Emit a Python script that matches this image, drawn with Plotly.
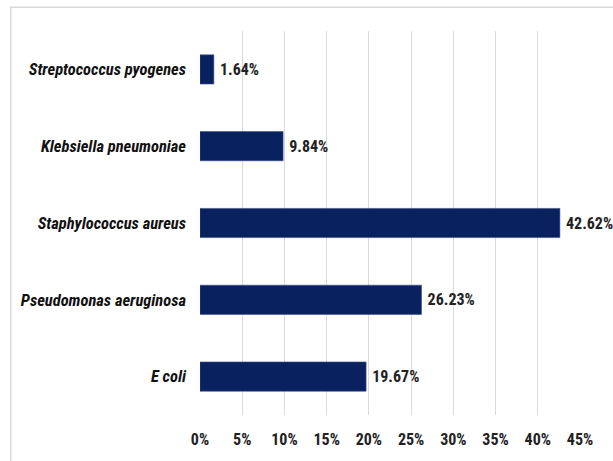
import plotly.graph_objects as go

# Bacterial isolates, share of total (%)
organisms = [
    "E coli",
    "Pseudomonas aeruginosa",
    "Staphylococcus aureus",
    "Klebsiella pneumoniae",
    "Streptococcus pyogenes",
]
shares = [19.67, 26.23, 42.62, 9.84, 1.64]
tick_values = [0, 5, 10, 15, 20, 25, 30, 35, 40, 45]
tick_labels = ["0%", "5%", "10%", "15%", "20%", "25%", "30%", "35%", "40%", "45%"]

W, H = 613, 461
ML, MR, MT, MB = 199.5, 33, 31, 42
pw, ph = W - ML - MR, H - MT - MB

font_family = "Liberation Sans Narrow, Roboto Condensed, Arial Narrow, sans-serif"

fig = go.Figure(
    go.Bar(
        x=shares,
        y=organisms,
        orientation="h",
        marker=dict(color="#0a2160", line=dict(color="#3a4f85", width=0.6)),
        width=0.38,
        text=[f"\u2009{v:.2f}%" for v in shares],
        textposition="outside",
        cliponaxis=False,
        textfont=dict(family=font_family, size=16, color="#222222", weight="bold"),
    )
)

# light outer frame of the chart area
fig.add_shape(
    type="rect",
    xref="paper", yref="paper",
    x0=(10 - ML) / pw, x1=(630 - ML) / pw,
    y0=-(80) / ph, y1=1 + (MT - 7) / ph,
    line=dict(color="#d9d9d9", width=1.5),
    layer="below",
)

fig.update_layout(
    width=W,
    height=H,
    margin=dict(l=ML, r=MR, t=MT, b=MB, pad=0),
    paper_bgcolor="white",
    plot_bgcolor="white",
    showlegend=False,
    xaxis=dict(
        range=[0, 45],
        tickvals=tick_values,
        ticktext=tick_labels,
        showgrid=True,
        gridcolor="#d9d9d9",
        gridwidth=1,
        zeroline=False,
        showline=False,
        ticks="",
        ticklabelstandoff=13,
        tickfont=dict(family=font_family, size=16, color="#222222", weight="bold"),
        fixedrange=True,
    ),
    yaxis=dict(
        categoryorder="array",
        categoryarray=organisms,
        range=[-0.5, 4.5],
        showgrid=False,
        zeroline=False,
        showline=False,
        ticks="",
        ticklabelstandoff=13,
        tickfont=dict(family=font_family, size=16.5, color="#111111",
                      weight="bold", style="italic"),
        fixedrange=True,
    ),
)

fig.write_html("out.html")
